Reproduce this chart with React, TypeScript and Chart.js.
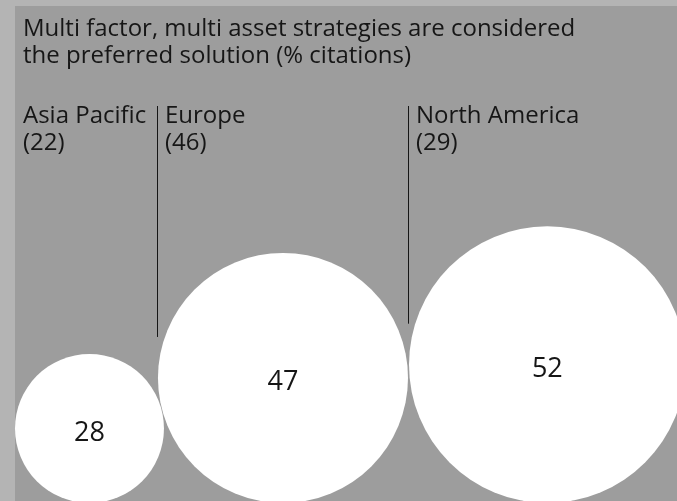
import React, { useEffect, useRef } from "react";
import { Chart, registerables } from "chart.js";

Chart.register(...registerables);

const titleLines = [
  "Multi factor, multi asset strategies are considered",
  "the preferred solution (% citations)",
];
const regions = ["Asia Pacific", "Europe", "North America"];
const respondents = [22, 46, 29];
const citations = [28, 47, 52];

const W = 677;
const H = 501;
const PANEL_LEFT = 15;
const PANEL_TOP = 6;
const PX_PER_UNIT = 2.66; // bubble radius per % citation
const BASE_Y = 503; // circles rest on this line
const PACK_OVERLAP = [0, 6, -1]; // overlap with previous bubble
const FONT = "'Open Sans', sans-serif";

function layout() {
  const rs = citations.map((v) => v * PX_PER_UNIT);
  const xs: number[] = [];
  let left = PANEL_LEFT;
  rs.forEach((r, i) => {
    if (i > 0) left = xs[i - 1] + rs[i - 1] - PACK_OVERLAP[i];
    xs.push(left + r);
  });
  const ys = rs.map((r) => BASE_Y - r);
  return { rs, xs, ys };
}

export default function App() {
  const ref = useRef<HTMLCanvasElement | null>(null);
  useEffect(() => {
    const { rs, xs, ys } = layout();
    const bg = {
      id: "bg",
      beforeDraw(chart: any) {
        const c = chart.ctx;
        c.save();
        c.fillStyle = "#b4b4b4";
        c.fillRect(0, 0, W, H);
        c.fillStyle = "#9d9d9d";
        c.fillRect(PANEL_LEFT, PANEL_TOP, W - PANEL_LEFT, H - PANEL_TOP);
        c.restore();
      },
      afterDatasetsDraw(chart: any) {
        const c = chart.ctx;
        const meta = chart.getDatasetMeta(0);
        c.save();
        c.fillStyle = "#161616";
        c.textAlign = "left";
        c.textBaseline = "alphabetic";
        c.font = `24px ${FONT}`;
        titleLines.forEach((t, i) => c.fillText(t, PANEL_LEFT + 8, 36 + i * 27));
        meta.data.forEach((el: any, i: number) => {
          const r = rs[i];
          const leftEdge = i === 0 ? PANEL_LEFT : el.x - r - 1;
          c.fillStyle = "#161616";
          c.font = `24px ${FONT}`;
          c.textAlign = "left";
          c.fillText(regions[i], leftEdge + 8, 123);
          c.fillText(`(${respondents[i]})`, leftEdge + 8, 150);
          if (i > 0) {
            c.strokeStyle = "#161616";
            c.lineWidth = 1;
            c.beginPath();
            c.moveTo(Math.round(leftEdge) + 0.5, 106);
            c.lineTo(Math.round(leftEdge) + 0.5, el.y - 41);
            c.stroke();
          }
          c.textAlign = "center";
          c.font = `27px ${FONT}`;
          c.fillText(String(citations[i]), el.x, el.y + 12);
        });
        c.restore();
      },
    };
    const chart = new Chart(ref.current as HTMLCanvasElement, {
      type: "bubble",
      data: {
        labels: regions,
        datasets: [
          {
            data: citations.map((v, i) => ({ x: xs[i], y: ys[i], r: rs[i] })),
            backgroundColor: "#ffffff",
            borderWidth: 0,
            hoverBorderWidth: 0,
            clip: false as any,
          },
        ],
      },
      options: {
        responsive: false,
        animation: false,
        layout: { padding: 0, autoPadding: false },
        plugins: { legend: { display: false }, tooltip: { enabled: false }, title: { display: false } },
        scales: {
          x: { type: "linear", min: 0, max: W, display: false },
          y: { type: "linear", min: 0, max: H, reverse: true, display: false },
        },
      },
      plugins: [bg],
    });
    return () => chart.destroy();
  }, []);
  return (
    <div style={{ position: "fixed", left: 0, top: 0, width: W, height: H }}>
      <canvas ref={ref} width={W} height={H} style={{ display: "block" }} />
    </div>
  );
}
